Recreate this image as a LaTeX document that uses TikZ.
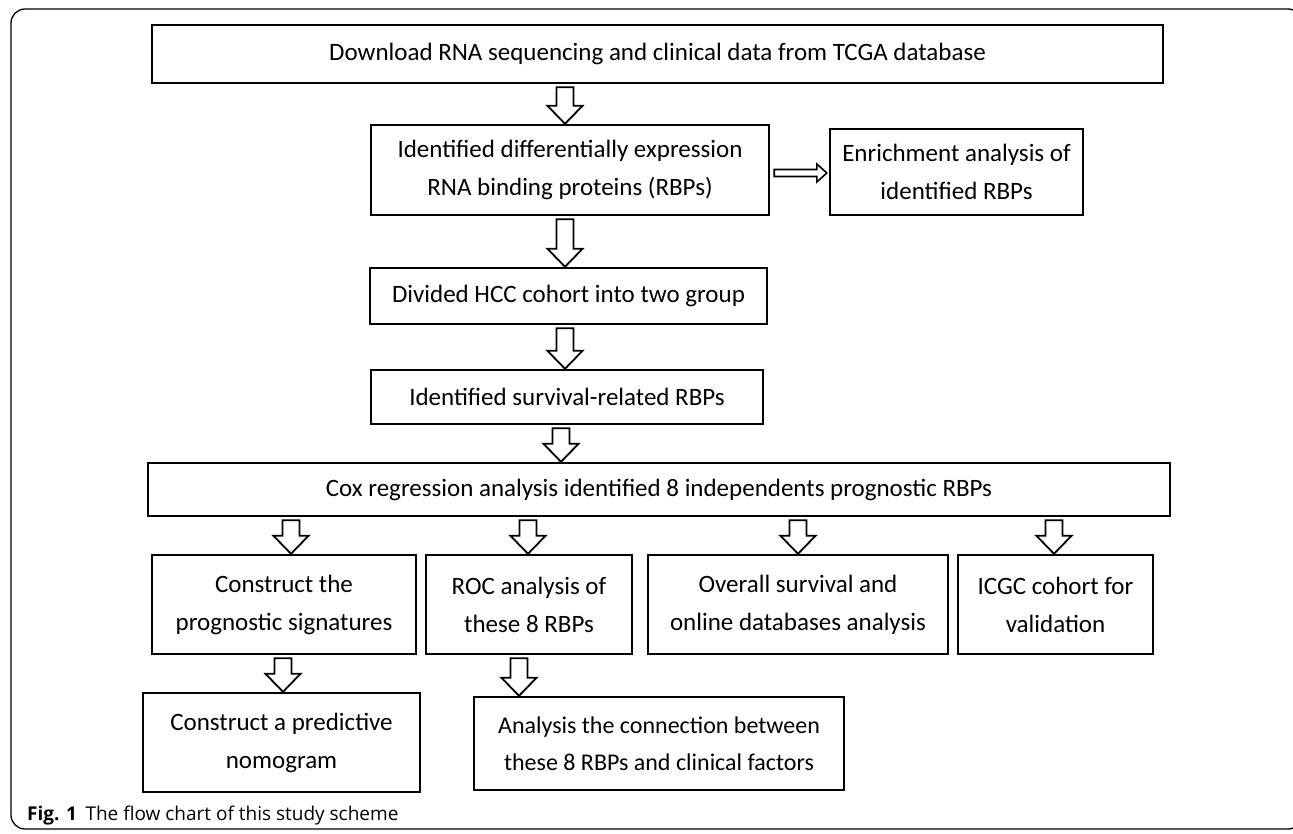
\documentclass[tikz,border=0pt]{standalone}
\usepackage{fontspec}
\setmainfont{Carlito}
\newfontfamily\capfont{Open Sans}
\usetikzlibrary{calc}
\newcommand{\boxfont}{\fontsize{25}{38}\selectfont}
\tikzset{
  x=1pt,y=-1pt,
  box/.style={draw,line width=2.4pt,align=center,inner sep=0pt,font=\boxfont},
  % hollow block arrows, drawn from start to target
  downarrow/.style={draw,line width=1.8pt,fill=white,
    to path={let \p1=(\tikztostart), \p2=(\tikztotarget) in
      (\x1-8.5pt,\y1-3pt) -- (\x1+8.5pt,\y1-3pt) -- (\x1+8.5pt,\y2+18pt) -- (\x1+17.5pt,\y2+18pt)
      -- (\x1,\y2) -- (\x1-17.5pt,\y2+18pt) -- (\x1-8.5pt,\y2+18pt) -- cycle}},
  rightarrow/.style={draw,line width=1.6pt,fill=white,
    to path={let \p1=(\tikztostart), \p2=(\tikztotarget) in
      (\x1+4pt,\y1+3.5pt) -- (\x2-12pt,\y1+3.5pt) -- (\x2-12pt,\y1+9pt) -- (\x2-2pt,\y1)
      -- (\x2-12pt,\y1-9pt) -- (\x2-12pt,\y1-3.5pt) -- (\x1+4pt,\y1-3.5pt) -- cycle}},
}

\begin{document}
\begin{tikzpicture}
\useasboundingbox (0,0) rectangle (1293,833);
\draw[line width=1.3pt,rounded corners=14pt] (11,9) rectangle (1302,829);

% ================= main column =================
\node[box,minimum width=1011pt,minimum height=58pt] (tcga) at (657.5,54) {Download RNA sequencing and clinical data from TCGA database};
\node[box,minimum width=398pt,minimum height=90pt] (deg) at (570,170) {Identified differentially expression\\RNA binding proteins (RBPs)};
\node[box,minimum width=253pt,minimum height=86pt] (enrich) at (956.5,172) {Enrichment analysis of\\identified RBPs};
\node[box,minimum width=397pt,minimum height=56pt] (group) at (568.5,296) {Divided HCC cohort into two group};
\node[box,minimum width=392pt,minimum height=54pt] (surv) at (567,397) {Identified survival-related RBPs};
\node[box,minimum width=1022pt,minimum height=53pt] (cox) at (659,489.5) {Cox regression analysis identified 8 independents prognostic RBPs};

% ================= branches =================
\node[box,minimum width=264pt,minimum height=99pt] (sig) at (284,604.5) {Construct the\\prognostic signatures};
\node[box,minimum width=206pt,minimum height=99pt] (roc) at (529,604.5) {ROC analysis of\\these 8 RBPs};
\node[box,minimum width=300pt,minimum height=99pt] (os) at (798,604.5) {Overall survival and\\online databases analysis};
\node[box,minimum width=195pt,minimum height=99pt] (icgc) at (1055.5,604.5) {ICGC cohort for\\validation};
\node[box,minimum width=277pt,minimum height=99pt] (nomo) at (281.5,742.5) {Construct a predictive\\nomogram};
\node[box,minimum width=370pt,minimum height=93pt,font=\fontsize{24}{37}\selectfont] (clin) at (659,743.5) {Analysis the connection between\\these 8 RBPs and clinical factors};

% arrow columns
\coordinate (c1) at (565,0);
\coordinate (c2) at (561,0);
\coordinate (c3) at (291,0);
\coordinate (c4) at (528,0);
\coordinate (c5) at (798,0);
\coordinate (c6) at (1054,0);
\coordinate (c7) at (283,0);
\coordinate (c8) at (519,0);
\coordinate (r1) at (0,173);

\draw[downarrow] (tcga.south -| c1) to (deg.north -| c1);
\draw[downarrow] (deg.south -| c1) to (group.north -| c1);
\draw[downarrow] (group.south -| c1) to (surv.north -| c1);
\draw[downarrow] (surv.south -| c2) to (cox.north -| c2);
\draw[rightarrow] (deg.east |- r1) to (enrich.west |- r1);
\draw[downarrow] (cox.south -| c3) to (sig.north -| c3);
\draw[downarrow] (cox.south -| c4) to (roc.north -| c4);
\draw[downarrow] (cox.south -| c5) to (os.north -| c5);
\draw[downarrow] (cox.south -| c6) to (icgc.north -| c6);
\draw[downarrow] (sig.south -| c7) to (nomo.north -| c7);
\draw[downarrow] (roc.south -| c8) to (clin.north -| c8);

\node[anchor=base west,inner sep=0pt,font=\capfont\fontsize{19}{23}\selectfont] (caption) at (27,820) {\textbf{Fig. 1}\hspace{0.45em}The flow chart of this study scheme};
\end{tikzpicture}
\end{document}
